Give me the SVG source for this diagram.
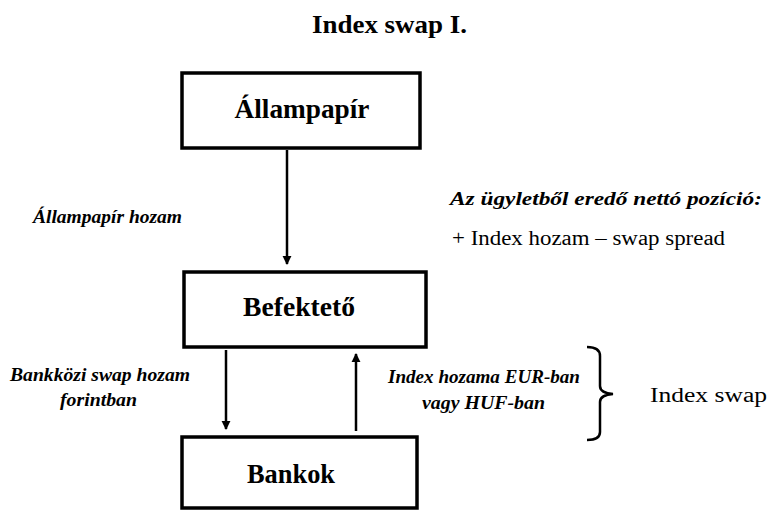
<svg xmlns="http://www.w3.org/2000/svg" width="769" height="510" viewBox="0 0 769 510">
<style>
.box{fill:#fff;stroke:#000;stroke-width:3.5}
.bt{font-family:"Liberation Serif",serif;font-weight:bold;font-size:28px;text-anchor:middle}
.lbl{font-family:"Liberation Serif",serif;font-weight:bold;font-style:italic;font-size:18px}
.nrm{font-family:"Liberation Serif",serif;font-size:20px}
.ttl{font-family:"Liberation Serif",serif;font-weight:bold;font-size:25px}
.ln{stroke:#000;stroke-width:2.5;fill:none}
</style>
<defs>
<marker id="ah" markerWidth="9" markerHeight="12" refX="9" refY="5" orient="auto" markerUnits="userSpaceOnUse" viewBox="0 0 10 10">
<path d="M0,0 L10,5 L0,10 Z" fill="#000"/>
</marker>
</defs>
<rect width="769" height="510" fill="#fff"/>
<text class="ttl" x="312" y="33" textLength="155" lengthAdjust="spacingAndGlyphs">Index swap I.</text>
<g id="allampapir">
<rect class="box" x="182" y="73" width="238" height="75"/>
<text class="bt" x="302" y="118" textLength="135" lengthAdjust="spacingAndGlyphs">Állampapír</text>
</g>
<g id="befekteto">
<rect class="box" x="184" y="272" width="242" height="75"/>
<text class="bt" x="299" y="316" textLength="112" lengthAdjust="spacingAndGlyphs">Befektető</text>
</g>
<g id="bankok">
<rect class="box" x="182" y="437" width="235" height="71"/>
<text class="bt" x="291" y="483" textLength="88" lengthAdjust="spacingAndGlyphs">Bankok</text>
</g>
<g id="connectors">
<line class="ln" x1="287" y1="150" x2="287" y2="264" marker-end="url(#ah)"/>
<line class="ln" x1="226" y1="350" x2="226" y2="429" marker-end="url(#ah)"/>
<line class="ln" x1="356" y1="431" x2="356" y2="354" marker-end="url(#ah)"/>
<path class="ln" d="M587,347 Q600,347 600,356 L600,386 Q600,393 613,394 Q600,395 600,402 L600,432 Q600,440 587,440"/>
</g>
<g id="labels">
<text class="lbl" x="33" y="223" textLength="149" lengthAdjust="spacingAndGlyphs">Állampapír hozam</text>
<text class="lbl" x="450" y="205" textLength="312" lengthAdjust="spacingAndGlyphs">Az ügyletből eredő nettó pozíció:</text>
<text class="nrm" x="452" y="245" textLength="273" lengthAdjust="spacingAndGlyphs">+ Index hozam – swap spread</text>
<text class="lbl" x="10" y="381" textLength="180" lengthAdjust="spacingAndGlyphs">Bankközi swap hozam</text>
<text class="lbl" x="60" y="406" textLength="77" lengthAdjust="spacingAndGlyphs">forintban</text>
<text class="lbl" x="388" y="383" textLength="192" lengthAdjust="spacingAndGlyphs">Index hozama EUR-ban</text>
<text class="lbl" x="422" y="409" textLength="123" lengthAdjust="spacingAndGlyphs">vagy HUF-ban</text>
<text class="nrm" x="650" y="402" font-size="23" textLength="117" lengthAdjust="spacingAndGlyphs">Index swap</text>
</g>
</svg>
